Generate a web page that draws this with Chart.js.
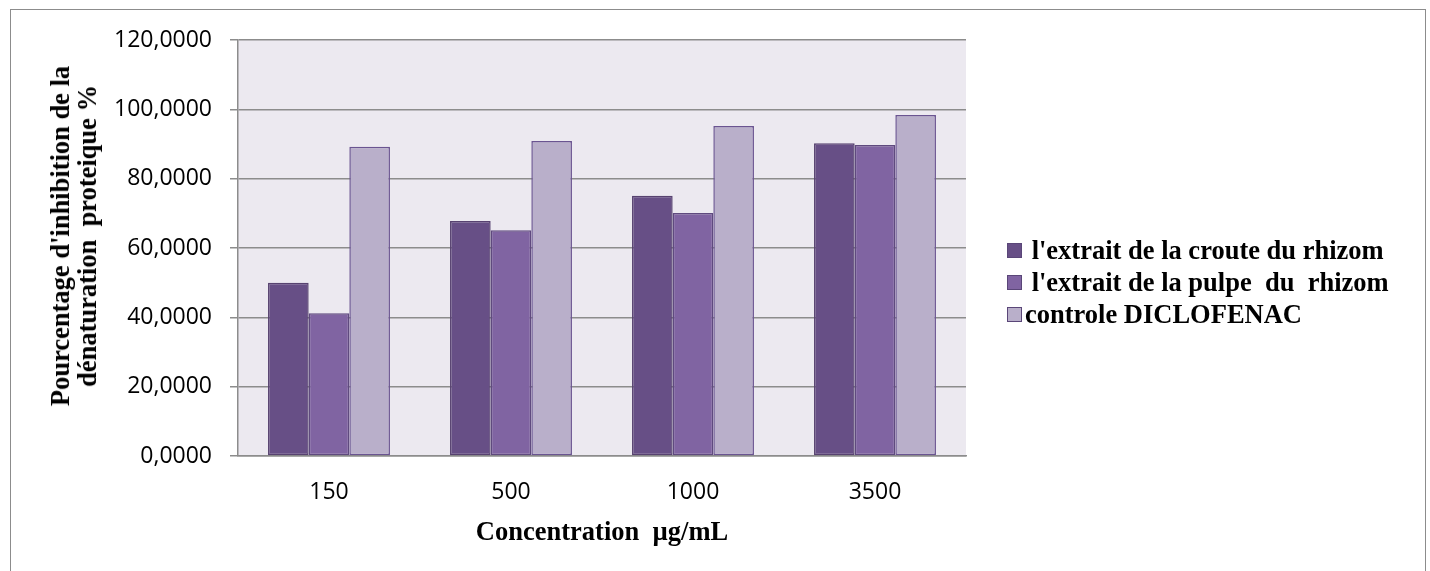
<!DOCTYPE html>
<html>
<head>
<meta charset="utf-8">
<script src="https://cdn.jsdelivr.net/npm/chart.js@4.4.1/dist/chart.umd.min.js"></script>
<style>
  html, body { margin: 0; padding: 0; background: #fff; }
  #wrap { position: relative; width: 1430px; height: 571px; overflow: hidden; background: #fff; }
  #frame { position: absolute; left: 10px; top: 9px; width: 1416px; height: 600px; border: 1.5px solid #8c8c8c; box-sizing: border-box; }
  canvas { position: absolute; left: 0; top: 0; }
  .serif { font-family: 'Liberation Serif', 'Times New Roman', serif; font-weight: bold; color: #000; }
  #yTitle { position: absolute; left: 74px; top: 236px; transform: translate(-50%, -50%) rotate(-90deg);
            font-size: 26.5px; line-height: 27px; text-align: center; white-space: pre; }
  #xTitle { position: absolute; left: 602px; top: 531px; transform: translate(-50%, -50%);
            font-size: 26.5px; white-space: pre; }
  #legend { position: absolute; left: 1007px; top: 234px; font-size: 26.5px; }
  .legend-item { display: flex; align-items: center; height: 32px; white-space: pre; }
  .legend-box { width: 15px; height: 15px; margin-right: 3px; box-sizing: border-box; border: 1px solid #5a4678; }
</style>
</head>
<body>
<div id="wrap">
  <div id="frame"></div>
  <canvas id="chart" width="1430" height="571"></canvas>
  <div id="yTitle" class="serif">Pourcentage d'inhibition de la
dénaturation  proteique %</div>
  <div id="xTitle" class="serif">Concentration  µg/mL</div>
  <div id="legend" class="serif"></div>
</div>
<script>
// ─── Data ─────────────────────────────────────────────────────────────────────

const categories = ['150', '500', '1000', '3500'];
const seriesNames = [
  " l'extrait de la croute du rhizom",
  " l'extrait de la pulpe  du  rhizom",
  'controle DICLOFENAC',
];
const crouteValues = [50.0, 67.8, 75.1, 90.2];
const pulpeValues  = [41.2, 65.1, 70.1, 89.7];
const diclofenacValues = [89.2, 90.9, 95.2, 98.4];
const yTickLabels = ['0,0000', '20,0000', '40,0000', '60,0000', '80,0000', '100,0000', '120,0000'];

const fills   = ['#674f86', '#8064a2', '#b9afca'];
const borders = ['#574270', '#5f4a7e', '#6a5491'];

// ─── Plot background ──────────────────────────────────────────────────────────

const plotBg = {
  id: 'plotBg',
  beforeDraw(chart) {
    const { ctx, chartArea: a } = chart;
    ctx.save();
    ctx.fillStyle = '#ece9f0';
    ctx.fillRect(a.left, a.top, a.right - a.left, a.bottom - a.top);
    ctx.restore();
  },
};

// ─── Chart ────────────────────────────────────────────────────────────────────

const values = [crouteValues, pulpeValues, diclofenacValues];

new Chart(document.getElementById('chart'), {
  type: 'bar',
  data: {
    labels: categories,
    datasets: seriesNames.map((name, i) => ({
      label: name.trim(),
      data: values[i],
      backgroundColor: fills[i],
      borderColor: borders[i],
      borderWidth: 1.5,
      borderSkipped: false,
      categoryPercentage: 0.67,
      barPercentage: 1.0,
    })),
  },
  options: {
    responsive: false,
    animation: false,
    layout: { padding: { left: 0, right: 464, top: 40, bottom: 0 } },
    plugins: { legend: { display: false }, tooltip: { enabled: false } },
    scales: {
      x: {
        grid: { display: false, drawTicks: false },
        border: { display: true, color: '#8c8c8c', width: 1.5 },
        ticks: { color: '#000', padding: 23, font: { family: "'Open Sans'", size: 23 } },
        afterFit: (s) => { s.height = 115; },
      },
      y: {
        min: 0,
        max: 120,
        grid: { color: '#8c8c8c', lineWidth: 1.5, tickLength: 8 },
        border: { display: true, color: '#8c8c8c', width: 1.5 },
        ticks: {
          stepSize: 20,
          color: '#000',
          padding: 18,
          font: { family: "'Open Sans'", size: 23 },
          callback: (v, i) => yTickLabels[i],
        },
        afterFit: (s) => { s.width = 238; },
      },
    },
  },
  plugins: [plotBg],
});

// ─── Legend ───────────────────────────────────────────────────────────────────

document.getElementById('legend').innerHTML = seriesNames.map((name, i) => `
  <div class="legend-item">
    <div class="legend-box" style="background:${fills[i]};"></div><span>${name}</span>
  </div>`).join('');
</script>
</body>
</html>
